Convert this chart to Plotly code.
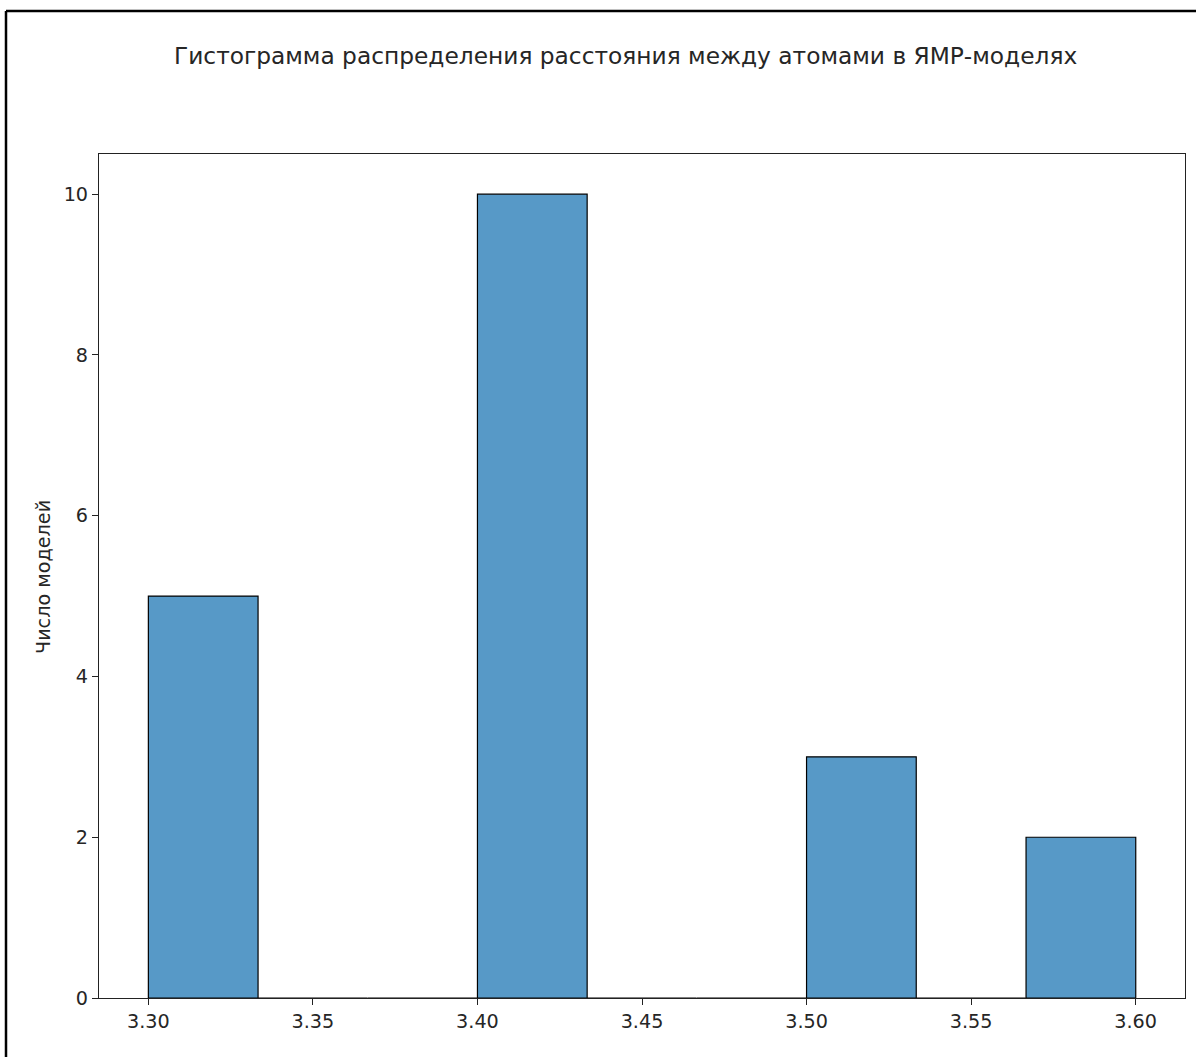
import plotly.graph_objects as go

# Histogram bins (distance, Å) and model counts per bin
bin_lefts = [3.3000, 3.3333, 3.3667, 3.4000, 3.4333, 3.4667, 3.5000, 3.5333, 3.5667]
bin_width = 0.3 / 9
counts = [5, 0, 0, 10, 0, 0, 3, 0, 2]

x_ticks = [3.30, 3.35, 3.40, 3.45, 3.50, 3.55, 3.60]
x_tick_labels = ["3.30", "3.35", "3.40", "3.45", "3.50", "3.55", "3.60"]
y_ticks = [0, 2, 4, 6, 8, 10]

title_text = "Гистограмма распределения расстояния между атомами в ЯМР-моделях"
y_title = "Число моделей"

W, H = 1196, 1057
L, R, T, B = 99, 11, 154, 59
pw, ph = W - L - R, H - T - B

def px_x(p):
    return (p - L) / pw

def px_y(p):
    return 1 - (p - T) / ph

centers = [b + bin_width / 2 for b in bin_lefts]

fig = go.Figure(go.Bar(
    x=centers, y=counts, width=[bin_width] * len(counts),
    marker=dict(color="rgb(87,153,199)", line=dict(color="black", width=1.2)),
    hoverinfo="skip",
))

font = "DejaVu Sans"
tick_size = 19.2
fig.update_layout(
    width=W, height=H,
    margin=dict(l=L, r=R, t=T, b=B),
    paper_bgcolor="white", plot_bgcolor="white",
    showlegend=False,
    font=dict(family=font, size=tick_size, color="#262626"),
    xaxis=dict(range=[3.285, 3.615], tickvals=x_ticks, ticktext=x_tick_labels,
               showgrid=False, zeroline=False, showline=True, mirror=True,
               linecolor="#222", linewidth=1.2, ticks="outside", ticklen=6,
               tickcolor="#222", tickfont=dict(family=font, size=tick_size)),
    yaxis=dict(range=[0, 10.5], tickvals=y_ticks, showgrid=False, zeroline=False,
               showline=True, mirror=True, linecolor="#222", linewidth=1.2,
               ticks="outside", ticklen=6, tickcolor="#222",
               tickfont=dict(family=font, size=tick_size)),
    annotations=[
        dict(text=title_text, x=px_x(625), y=px_y(55), xref="paper", yref="paper",
             showarrow=False, xanchor="center", yanchor="middle",
             font=dict(family=font, size=23.3, color="#262626")),
        dict(text=y_title, x=px_x(43), y=px_y(577), xref="paper", yref="paper",
             showarrow=False, xanchor="center", yanchor="middle", textangle=-90,
             font=dict(family=font, size=tick_size, color="#262626")),
    ],
    shapes=[
        dict(type="line", xref="paper", yref="paper", x0=px_x(6), x1=px_x(W + 5),
             y0=px_y(11), y1=px_y(11), line=dict(color="black", width=2.5)),
        dict(type="line", xref="paper", yref="paper", x0=px_x(6), x1=px_x(6),
             y0=px_y(11), y1=px_y(H + 5), line=dict(color="black", width=2.5)),
    ],
)

fig.write_html("out.html")
